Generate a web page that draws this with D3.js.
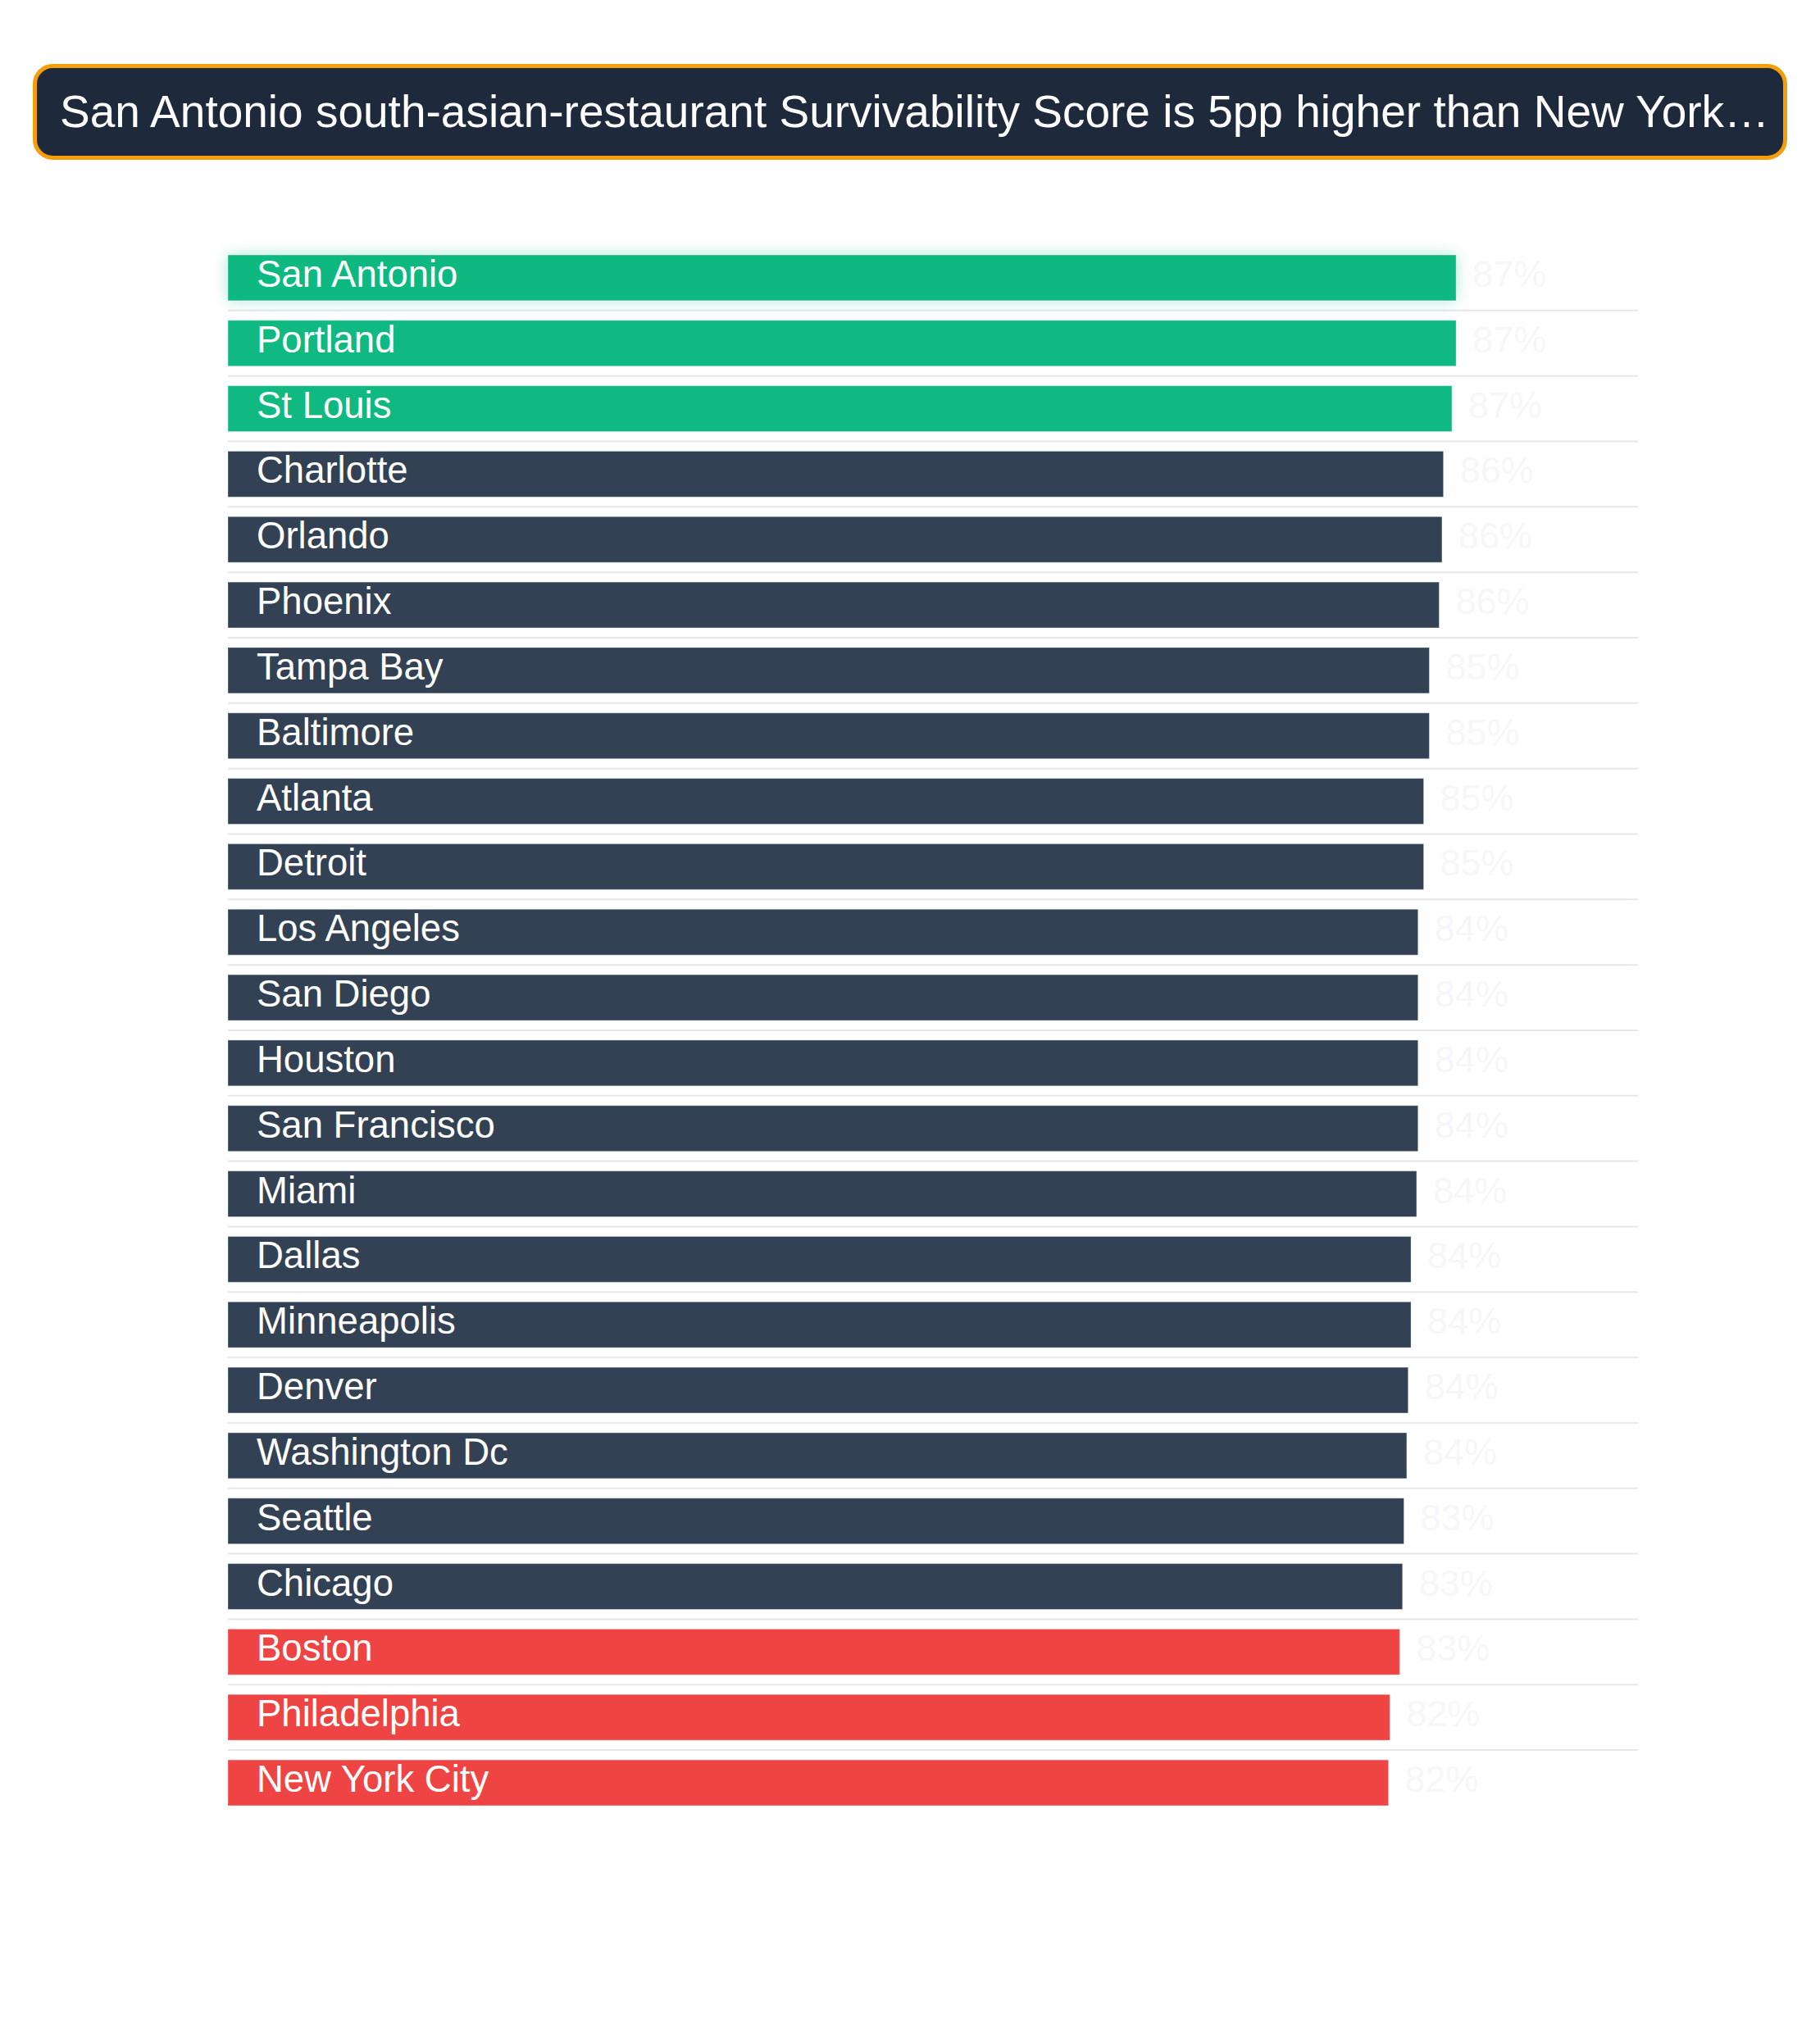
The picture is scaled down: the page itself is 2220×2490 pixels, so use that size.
<!DOCTYPE html>
<html>
<head>
<meta charset="utf-8">
<script src="https://cdn.jsdelivr.net/npm/d3@7"></script>
<style>
  html, body { margin: 0; padding: 0; background: #ffffff; }
  svg { display: block; }
</style>
</head>
<body>
<div id="chart"></div>
<script>
const titleText = "San Antonio south-asian-restaurant Survivability Score is 5pp higher than New York…";

const cities = [
  "San Antonio", "Portland", "St Louis", "Charlotte", "Orlando", "Phoenix",
  "Tampa Bay", "Baltimore", "Atlanta", "Detroit", "Los Angeles", "San Diego",
  "Houston", "San Francisco", "Miami", "Dallas", "Minneapolis", "Denver",
  "Washington Dc", "Seattle", "Chicago", "Boston", "Philadelphia", "New York City"
];

const scores = [
  87.1, 87.1, 86.8, 86.2, 86.1, 85.9,
  85.2, 85.2, 84.8, 84.8, 84.4, 84.4,
  84.4, 84.4, 84.3, 83.9, 83.9, 83.7,
  83.6, 83.4, 83.3, 83.1, 82.4, 82.3
];

const groups = [
  "top", "top", "top", "mid", "mid", "mid",
  "mid", "mid", "mid", "mid", "mid", "mid",
  "mid", "mid", "mid", "mid", "mid", "mid",
  "mid", "mid", "mid", "low", "low", "low"
];

const xDomain = [0, 100];

const data = cities.map((c, i) => ({ city: c, value: scores[i], group: groups[i] }));

const W = 2220, H = 2490;
const colors = { top: "#10b981", mid: "#334155", low: "#ef4444" };

const svg = d3.select("#chart").append("svg")
  .attr("width", W).attr("height", H)
  .style("font-family", "'Liberation Sans', Arial, Helvetica, sans-serif");

const defs = svg.append("defs");
const glow = defs.append("filter").attr("id", "glow")
  .attr("x", "-10%").attr("y", "-60%").attr("width", "120%").attr("height", "220%");
glow.append("feDropShadow")
  .attr("dx", 0).attr("dy", 0).attr("stdDeviation", 9)
  .attr("flood-color", "#10b981").attr("flood-opacity", 0.32);

// Title box
const tg = svg.append("g");
tg.append("rect")
  .attr("x", 42.5).attr("y", 80.5).attr("width", 2135).attr("height", 112)
  .attr("rx", 22).attr("ry", 22)
  .attr("fill", "#1e293b").attr("stroke", "#f59e0b").attr("stroke-width", 5);
tg.append("text")
  .attr("x", 73).attr("y", 155)
  .attr("font-size", 55).attr("fill", "#ffffff")
  .text(titleText);

// Scales
const left = 278, right = 1998;
const y0 = 299, step = 79.83;
const x = d3.scaleLinear().domain(xDomain).range([left, right]);
const y = d3.scaleBand().domain(cities)
  .range([y0, y0 + step * cities.length])
  .paddingInner(0.3).paddingOuter(0.15);

// Separators
svg.append("g").selectAll("line")
  .data(data.slice(0, data.length - 1))
  .join("line")
  .attr("x1", left).attr("x2", right)
  .attr("y1", (d, i) => y0 + step * (i + 1))
  .attr("y2", (d, i) => y0 + step * (i + 1))
  .attr("stroke", "#e5e7eb").attr("stroke-width", 2);

// Bars
const rows = svg.append("g").selectAll("g")
  .data(data).join("g");

rows.append("rect")
  .attr("x", x(0))
  .attr("y", d => y(d.city))
  .attr("width", d => x(d.value) - x(0))
  .attr("height", y.bandwidth())
  .attr("fill", d => colors[d.group])
  .attr("stroke", "rgba(255,255,255,0.35)")
  .attr("stroke-width", 1)
  .attr("filter", (d, i) => i === 0 ? "url(#glow)" : null);

rows.append("text")
  .attr("x", x(0) + 35)
  .attr("y", d => y(d.city) + 39)
  .attr("font-size", 45.5)
  .attr("fill", "#ffffff")
  .text(d => d.city);

rows.append("text")
  .attr("x", d => x(d.value) + 20)
  .attr("y", d => y(d.city) + 39)
  .attr("font-size", 45)
  .attr("fill", "#f5f7fa")
  .text(d => Math.round(d.value) + "%");
</script>
</body>
</html>
